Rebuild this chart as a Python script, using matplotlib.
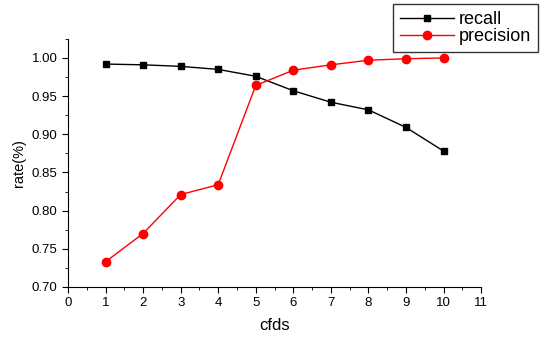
import matplotlib
matplotlib.use("Agg")
import matplotlib.pyplot as plt
from matplotlib.ticker import MultipleLocator, FormatStrFormatter

plt.rcParams['font.family'] = ['Liberation Sans', 'DejaVu Sans']

cfds = [1, 2, 3, 4, 5, 6, 7, 8, 9, 10]
recall = [0.992, 0.991, 0.989, 0.985, 0.976, 0.957, 0.942, 0.932, 0.909, 0.878]
precision = [0.733, 0.770, 0.821, 0.834, 0.964, 0.984, 0.991, 0.997, 0.999, 1.000]

fig = plt.figure(figsize=(5.48, 3.38), dpi=100)
ax = fig.add_axes([0.124, 0.151, 0.754, 0.734])

l1, = ax.plot(cfds, recall, color='black', lw=1, marker='s', ms=5, label='recall')
l2, = ax.plot(cfds, precision, color='red', lw=1, marker='o', ms=6, label='precision')

ax.set_xlim(0, 11)
ax.set_ylim(0.70, 1.025)
ax.xaxis.set_major_locator(MultipleLocator(1))
ax.xaxis.set_minor_locator(MultipleLocator(0.5))
ax.yaxis.set_major_locator(MultipleLocator(0.05))
ax.yaxis.set_minor_locator(MultipleLocator(0.025))
ax.yaxis.set_major_formatter(FormatStrFormatter('%.2f'))
ax.spines['top'].set_visible(False)
ax.spines['right'].set_visible(False)
ax.tick_params(which='major', direction='out', length=4, labelsize=9.5)
ax.tick_params(which='minor', direction='out', length=2.5)
ax.set_xlabel('cfds', fontsize=12, labelpad=6)
ax.set_ylabel('rate(%)', fontsize=10.5)

leg = fig.legend(handles=[l1, l2], loc='upper left', bbox_to_anchor=(393/548, 1 - 4/338),
                 frameon=True, fancybox=False, edgecolor='black', fontsize=13,
                 handlelength=3.0, borderpad=0.4, labelspacing=0.0, handletextpad=0.25,
                 borderaxespad=0)
leg.get_frame().set_linewidth(1.0)

fig.savefig('out.png', dpi=100)
